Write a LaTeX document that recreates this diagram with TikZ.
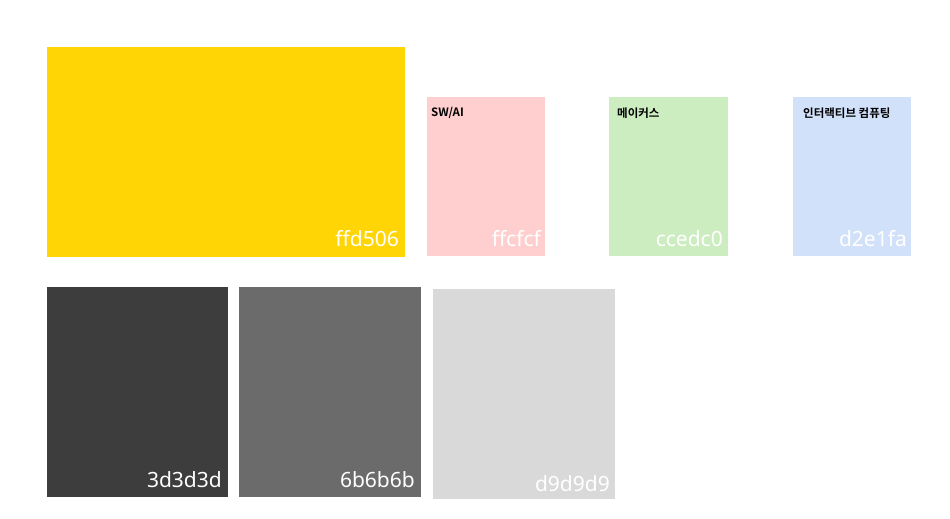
\documentclass[tikz,border=0pt]{standalone}
\usepackage{fontspec}
\setmainfont{Noto Sans}
\newfontfamily\krfont{Noto Sans CJK KR}[BoldFont={* Bold}]
\definecolor{cyel}{HTML}{FFD506}
\definecolor{cpink}{HTML}{FFCFCF}
\definecolor{cgreen}{HTML}{CCEDC0}
\definecolor{cblue}{HTML}{D2E1FA}
\definecolor{cdark}{HTML}{3D3D3D}
\definecolor{cmid}{HTML}{6B6B6B}
\definecolor{clight}{HTML}{D9D9D9}
\begin{document}
\begin{tikzpicture}[x=1pt,y=-1pt,
  hexlabel/.style={anchor=base east,inner sep=0pt,text=white,font=\fontsize{21}{23}\selectfont},
  toplabel/.style={anchor=west,inner sep=0pt,text=black,font=\krfont\bfseries\fontsize{11.5}{13}\selectfont}]
\useasboundingbox (0,0) rectangle (950,519);
\fill[white] (0,0) rectangle (950,519);
% swatches
\fill[cyel] (47,47) rectangle (405,257);
\fill[cpink] (427,97) rectangle (545,256);
\fill[cgreen] (609,97) rectangle (728,256);
\fill[cblue] (793,97) rectangle (911,256);
\fill[cdark] (47,287) rectangle (228,497);
\fill[cmid] (239,287) rectangle (421,497);
\fill[clight] (433,289) rectangle (615,499);
% hex labels
\node[hexlabel] (hy) at (399,246) {ffd506};
\node[hexlabel] (hp) at (541,246) {ffcfcf};
\node[hexlabel] (hg) at (723,246) {ccedc0};
\node[hexlabel] (hb) at (907,246) {d2e1fa};
\node[hexlabel] (hd) at (222,487) {3d3d3d};
\node[hexlabel] (hm) at (415,487) {6b6b6b};
\node[hexlabel] (hl) at (610,491) {d9d9d9};
% category labels
\node[toplabel] (lp) at (431,113) {SW/AI};
\node[toplabel] (lg) at (617,113) {메이커스};
\node[toplabel] (lb) at (803,113) {인터랙티브 컴퓨팅};
\end{tikzpicture}
\end{document}
